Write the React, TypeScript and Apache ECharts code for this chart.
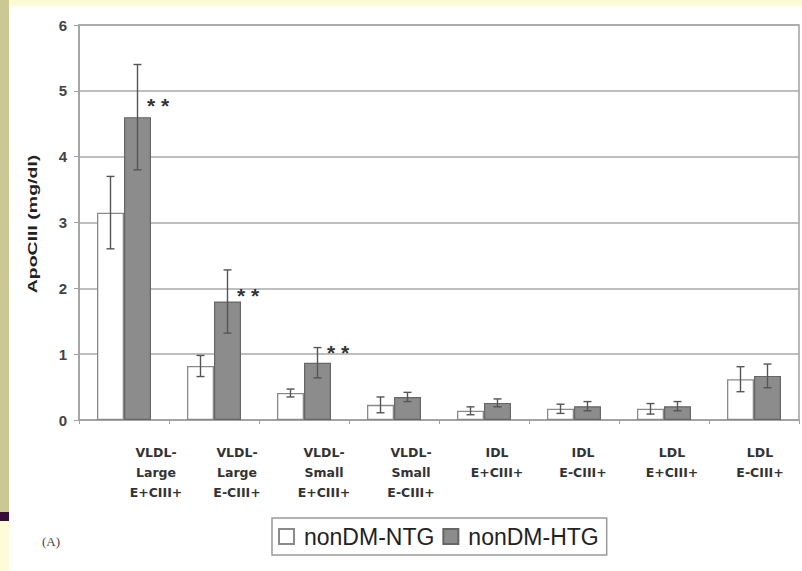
import React, { useEffect, useRef } from "react";
import * as echarts from "echarts";

// Lipoprotein subclasses (x axis)
const categories = [
  "VLDL-\nLarge\nE+CIII+",
  "VLDL-\nLarge\nE-CIII+",
  "VLDL-\nSmall\nE+CIII+",
  "VLDL-\nSmall\nE-CIII+",
  "IDL\nE+CIII+",
  "IDL\nE-CIII+",
  "LDL\nE+CIII+",
  "LDL\nE-CIII+",
];

// ApoCIII (mg/dl): means and error half-widths per group
const ntgMean = [3.15, 0.82, 0.41, 0.23, 0.14, 0.17, 0.17, 0.62];
const ntgErr = [0.55, 0.16, 0.06, 0.12, 0.06, 0.07, 0.08, 0.19];
const htgMean = [4.6, 1.8, 0.87, 0.35, 0.26, 0.21, 0.21, 0.67];
const htgErr = [0.8, 0.48, 0.23, 0.07, 0.06, 0.07, 0.07, 0.18];

// Significance markers: category index and level
const starCats = [0, 1, 2];
const starLevels = [4.85, 1.97, 1.1];

const yTicks = [0, 1, 2, 3, 4, 5, 6];

// horizontal nudge of each category label (px)
const labelNudge = [32, 23, 20, 17, 13, 9, 8, 6];

function errorBarSeries(mean: number[], err: number[], shift: number) {
  return {
    type: "custom",
    z: 5,
    data: mean.map((m, i) => [i, m - err[i], m + err[i]]),
    renderItem: (_p: any, api: any) => {
      const idx = api.value(0);
      const lo = api.value(1);
      const hi = api.value(2);
      const band = api.size([1, 0])[0];
      const x = api.coord([idx, 0])[0] + shift * band;
      const yl = api.coord([idx, lo])[1];
      const yh = api.coord([idx, hi])[1];
      const cap = 4;
      const style = { stroke: "#555", lineWidth: 1.4 };
      return {
        type: "group",
        children: [
          { type: "line", shape: { x1: x, y1: yl, x2: x, y2: yh }, style },
          { type: "line", shape: { x1: x - cap, y1: yl, x2: x + cap, y2: yl }, style },
          { type: "line", shape: { x1: x - cap, y1: yh, x2: x + cap, y2: yh }, style },
        ],
      };
    },
  };
}

export default function App() {
  const ref = useRef<HTMLDivElement>(null);

  useEffect(() => {
    if (!ref.current) return;
    const chart = echarts.init(ref.current, null, { renderer: "svg" });
    const font = "Arial, 'Liberation Sans', sans-serif";
    const labelFont = "'DejaVu Sans', Arial, sans-serif";

    chart.setOption({
      animation: false,
      backgroundColor: "#ffffff",
      textStyle: { fontFamily: font },
      graphic: [
        { type: "rect", z: -10, shape: { x: 0, y: 0, width: 802, height: 6 }, style: { fill: "#fdfbd3" } },
        { type: "rect", z: -10, shape: { x: 0, y: 0, width: 9, height: 512 }, style: { fill: "#cbc894" } },
        { type: "rect", z: -10, shape: { x: 0, y: 512, width: 9, height: 9 }, style: { fill: "#3a0c3c" } },
        { type: "rect", z: -10, shape: { x: 0, y: 521, width: 9, height: 50 }, style: { fill: "#fdfbd8" } },
        {
          type: "text",
          x: 42,
          y: 541,
          style: {
            text: "(A)",
            fontFamily: "'Liberation Serif', 'DejaVu Serif', serif",
            fontSize: 13,
            fill: "#444",
            verticalAlign: "middle",
          },
        },
        // y-axis title, drawn wide along its baseline
        {
          type: "text",
          x: 33,
          y: 224,
          rotation: Math.PI / 2,
          scaleX: 1.5,
          style: {
            text: "ApoCIII (mg/dl)",
            fontFamily: font,
            fontSize: 13,
            fontWeight: "bold",
            fill: "#222",
            align: "center",
            verticalAlign: "middle",
          },
        },
      ],
      grid: {
        left: 79,
        right: 3,
        top: 25,
        bottom: 151,
        show: true,
        borderColor: "#a0a0a0",
        borderWidth: 1.5,
        backgroundColor: "transparent",
      },
      legend: {
        data: ["nonDM-NTG", "nonDM-HTG"],
        left: 272,
        top: 518,
        orient: "horizontal",
        icon: "rect",
        borderColor: "#9a9a9a",
        borderWidth: 1.5,
        borderRadius: 0,
        padding: [7, 8, 7, 6],
        itemWidth: 15,
        itemHeight: 15,
        itemGap: 8,
        textStyle: { fontSize: 23, color: "#222", fontFamily: font, padding: [0, 0, 0, 5] },
      },
      xAxis: {
        type: "category",
        data: categories.map((c, i) => ({
          value: c,
          textStyle: { padding: [0, 0, 0, labelNudge[i] * 2] },
        })),
        axisLine: { lineStyle: { color: "#a0a0a0", width: 1.5 } },
        axisTick: { show: true, length: 4, lineStyle: { color: "#a0a0a0" } },
        axisLabel: {
          margin: 22,
          fontSize: 12.5,
          fontWeight: "bold",
          fontFamily: labelFont,
          color: "#333",
          lineHeight: 20,
          interval: 0,
        },
      },
      yAxis: {
        type: "value",
        min: yTicks[0],
        max: yTicks[yTicks.length - 1],
        interval: 1,
        axisLine: { show: true, lineStyle: { color: "#a0a0a0", width: 1.5 } },
        axisTick: { show: true, length: 5, lineStyle: { color: "#a0a0a0" } },
        axisLabel: { margin: 12, fontSize: 15, fontWeight: "bold", color: "#444" },
        splitLine: { lineStyle: { color: "#a8a8a8", width: 1.5 } },
      },
      series: [
        {
          name: "nonDM-NTG",
          type: "bar",
          data: ntgMean,
          barWidth: "30%",
          barGap: "0%",
          itemStyle: { color: "#ffffff", borderColor: "#8a8a8a", borderWidth: 1.3 },
        },
        {
          name: "nonDM-HTG",
          type: "bar",
          data: htgMean,
          barWidth: "30%",
          itemStyle: { color: "#8c8c8c", borderColor: "#666666", borderWidth: 1.2 },
        },
        errorBarSeries(ntgMean, ntgErr, -0.15),
        errorBarSeries(htgMean, htgErr, 0.15),
        {
          type: "custom",
          z: 6,
          data: starCats.map((c, i) => [c, starLevels[i]]),
          renderItem: (_p: any, api: any) => {
            const band = api.size([1, 0])[0];
            const pt = api.coord([api.value(0), api.value(1)]);
            return {
              type: "text",
              x: pt[0] + 0.38 * band,
              y: pt[1] + 5,
              style: {
                text: "* *",
                fontSize: 21,
                fontWeight: "bold",
                fill: "#333",
                align: "center",
                verticalAlign: "middle",
                fontFamily: font,
              },
            };
          },
        },
      ],
    });

    return () => chart.dispose();
  }, []);

  return (
    <div
      ref={ref}
      style={{ position: "fixed", left: 0, top: 0, width: 802, height: 571 }}
    />
  );
}
